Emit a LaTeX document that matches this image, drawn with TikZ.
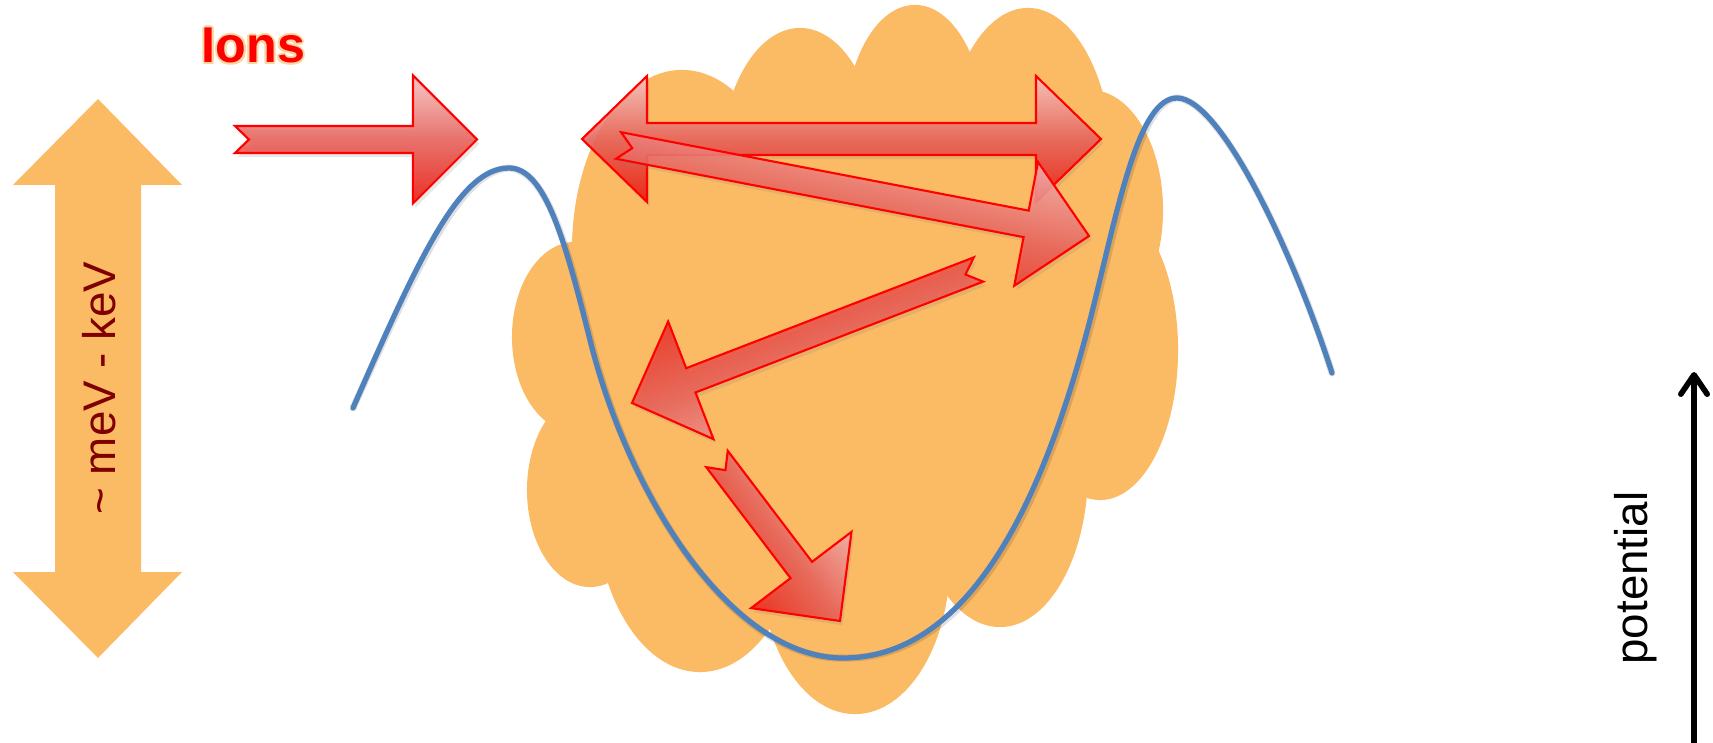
\documentclass[tikz,border=0pt]{standalone}
\usepackage{fontspec}
\setmainfont{Liberation Sans}
\usetikzlibrary{calc,shadows,arrows.meta}
\definecolor{cloudorange}{RGB}{251,186,100}
\definecolor{curveblue}{RGB}{79,129,189}
\definecolor{mevred}{RGB}{128,0,0}
\definecolor{arrlight}{RGB}{247,196,196}
\definecolor{arrmid}{RGB}{232,98,90}
\definecolor{arrdark}{RGB}{236,24,12}
\definecolor{glowcol}{RGB}{252,214,160}
\tikzset{
  redarrow/.style={draw=red, line width=0.6pt, line join=miter,
    top color=arrlight, bottom color=arrdark, middle color=arrmid,
    fill opacity=0.88,
    drop shadow={opacity=0.18, shadow xshift=0.7pt, shadow yshift=-1.2pt}},
  cloudpart/.style={fill=cloudorange},
  curve/.style={draw=curveblue, line width=1.5pt, line cap=round},
  curveshadow/.style={draw=black, opacity=0.12, line width=2pt, line cap=round},
  potarrow/.style={draw=black, line width=1.6pt, -{Straight Barb[length=5.5pt,width=7.5pt,line cap=round,line join=round]}},
  sidearrow/.style={fill=cloudorange},
}
\newcommand{\blockarr}[7]{%
  \coordinate (#2-hb) at ($(#3)!#6!(#2)$);
  \path[redarrow,#1]
    ($(#2)!#4!90:(#3)$) -- ($(#2-hb)!#4!90:(#3)$) -- ($(#2-hb)!#5!90:(#3)$) -- (#3)
    -- ($(#2-hb)!#5!-90:(#3)$) -- ($(#2-hb)!#4!-90:(#3)$) -- ($(#2)!#4!-90:(#3)$)
    -- ($(#2)!#7!(#3)$) -- cycle;
}
\newcommand{\wellpath}{(c0) .. controls (420,255) and (460,168) .. (c1)
  .. controls (545,168) and (565,240) .. (590,340)
  .. controls (630,500) and (733,658) .. (c2)
  .. controls (950,658) and (1035,546) .. (1095,300)
  .. controls (1120,198) and (1140,98) .. (c3)
  .. controls (1220,98) and (1292,249) .. (c4)}
\begin{document}
\begin{tikzpicture}[x=0.01cm,y=-0.01cm]
\useasboundingbox (0,0) rectangle (1713,743);

% ---- cloud ----
\fill[cloudpart] (682,250) ellipse [x radius=1.10cm, y radius=1.80cm];
\fill[cloudpart] (800,170) ellipse [x radius=0.80cm, y radius=1.42cm];
\fill[cloudpart] (915,130) ellipse [x radius=0.70cm, y radius=1.25cm];
\fill[cloudpart] (1028,170) ellipse [x radius=0.85cm, y radius=1.62cm];
\fill[cloudpart] (1090,210) ellipse [x radius=0.73cm, y radius=1.20cm];
\fill[cloudpart] (1100,350) ellipse [x radius=0.78cm, y radius=1.50cm];
\fill[cloudpart] (1000,470) ellipse [x radius=0.88cm, y radius=1.57cm];
\fill[cloudpart] (855,560) ellipse [x radius=0.95cm, y radius=1.54cm];
\fill[cloudpart] (700,500) ellipse [x radius=1.05cm, y radius=1.72cm];
\fill[cloudpart] (590,490) ellipse [x radius=0.63cm, y radius=0.97cm];
\fill[cloudpart] (575,337) ellipse [x radius=0.63cm, y radius=0.95cm];
\fill[cloudpart] (682,250) -- (800,170) -- (915,130) -- (1028,170) -- (1090,210)
  -- (1100,350) -- (1000,470) -- (855,560) -- (700,500) -- (590,490) -- (575,337) -- cycle;

% ---- potential curve ----
\coordinate (c0) at (353,408);
\coordinate (c1) at (509,168);
\coordinate (c2) at (843,658);
\coordinate (c3) at (1177,98);
\coordinate (c4) at (1332,373);
\begin{scope}[shift={(1.5,2.5)}]
  \draw[curveshadow] \wellpath;
\end{scope}
\draw[curve] \wellpath;

% ---- red block arrows ----
\coordinate (a1t) at (235,139.5); \coordinate (a1p) at (477,139.5);
\blockarr{shading angle=0}{a1t}{a1p}{0.135cm}{0.64cm}{0.64cm}{0.14cm}

\coordinate (a2l) at (582,139); \coordinate (a2r) at (1101,139);
\path[redarrow] (a2l) -- (647,76) -- (647,123) -- (1036,123) -- (1036,76) -- (a2r)
  -- (1036,202) -- (1036,155) -- (647,155) -- (647,202) -- cycle;

\coordinate (a3t) at (618.5,145.5); \coordinate (a3p) at (1089,236);
\blockarr{shading angle=-10.9}{a3t}{a3p}{0.135cm}{0.63cm}{0.64cm}{0.14cm}

\coordinate (a4t) at (978.5,269.5); \coordinate (a4p) at (632,403);
\blockarr{shading angle=201}{a4t}{a4p}{0.13cm}{0.63cm}{0.63cm}{0.14cm}

\coordinate (a5t) at (717,459); \coordinate (a5p) at (840,621);
\blockarr{shading angle=-52.8}{a5t}{a5p}{0.135cm}{0.63cm}{0.64cm}{0.14cm}

% ---- left energy double arrow ----
\fill[sidearrow] (98,99) -- (182,185) -- (141,185) -- (141,572) -- (182,572) -- (98,658)
  -- (13,572) -- (55,572) -- (55,185) -- (13,185) -- cycle;
\node[rotate=90, inner sep=0, text=mevred, font=\fontsize{13}{15}\selectfont] (mev) at (99,388)
  {\textasciitilde\ meV - keV};

% ---- Ions label ----
\coordinate (ionsbase) at (201,63);
\foreach \dx/\dy [count=\i] in {-2/0,2/0,0/-2,0/2,-1.5/-1.5,1.5/1.5,-1.5/1.5,1.5/-1.5}
  \node[anchor=base west, inner sep=0, text=glowcol, font=\fontsize{14.3}{16}\selectfont\bfseries]
    (ionsglow\i) at ($(ionsbase)+(\dx,\dy)$) {Ions};
\node[anchor=base west, inner sep=0, text=red, font=\fontsize{14.3}{16}\selectfont\bfseries]
  (ions) at (ionsbase) {Ions};

% ---- potential axis ----
\coordinate (potbot) at (1694,745);
\coordinate (pottop) at (1694,372);
\draw[potarrow] (potbot) -- (pottop);
\node[rotate=90, inner sep=0, font=\fontsize{13}{15}\selectfont] (potlabel) at (1636,578) {potential};
\end{tikzpicture}
\end{document}
